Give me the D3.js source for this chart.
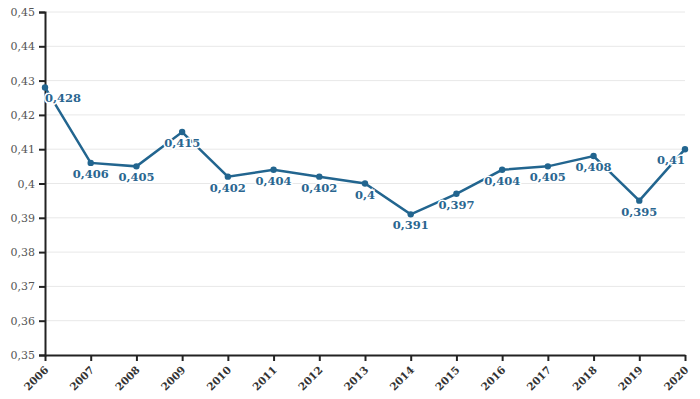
<!DOCTYPE html>
<html lang="en">
<head>
<meta charset="UTF-8">
<title>Line chart</title>
<script src="https://cdn.jsdelivr.net/npm/d3@7"></script>
<style>
    body { margin: 0; background: #fff; }
    .axis text { font-family: "DejaVu Serif", serif; font-size: 11px; fill: #555; }
    .axis.x text { fill: #333; font-weight: bold; font-size: 10.5px; }
    .axis path, .axis line { stroke: #222; stroke-width: 2px; }
    .grid line { stroke: #e8e8e8; stroke-width: 1px; }
    .lbl { font-family: "DejaVu Serif", serif; font-size: 11.5px; font-weight: bold; fill: #2a6690;
           stroke: #fff; stroke-width: 3px; paint-order: stroke; }
</style>
</head>
<body>
<script>
    // data
    const years = ["2006","2007","2008","2009","2010","2011","2012","2013","2014","2015","2016","2017","2018","2019","2020"];
    const values = [0.428,0.406,0.405,0.415,0.402,0.404,0.402,0.4,0.391,0.397,0.404,0.405,0.408,0.395,0.41];
    const yTicks = [0.35,0.36,0.37,0.38,0.39,0.40,0.41,0.42,0.43,0.44,0.45];

    const width = 700, height = 399;
    const margin = {top: 12, right: 15, bottom: 44, left: 45};
    const color = "#22658f";

    const fmt = v => d3.format("")(+v.toFixed(3)).replace(".", ",");

    const svg = d3.select("body").append("svg")
        .attr("width", width)
        .attr("height", height);

    const x = d3.scalePoint()
        .domain(years)
        .range([margin.left, width - margin.right]);

    const y = d3.scaleLinear()
        .domain([0.35, 0.45])
        .range([height - margin.bottom, margin.top]);

    // grid
    svg.append("g").attr("class", "grid")
        .selectAll("line")
        .data(yTicks.slice(1))
        .join("line")
        .attr("x1", margin.left)
        .attr("x2", width - margin.right)
        .attr("y1", d => y(d))
        .attr("y2", d => y(d));

    // axes
    svg.append("g").attr("class", "axis y")
        .attr("transform", `translate(${margin.left},0)`)
        .call(d3.axisLeft(y).tickValues(yTicks).tickSize(6).tickFormat(fmt))
        .selectAll("text").attr("dx", "-1");

    const xAxis = svg.append("g").attr("class", "axis x")
        .attr("transform", `translate(0,${height - margin.bottom})`)
        .call(d3.axisBottom(x).tickSize(6).tickSizeOuter(0));
    xAxis.selectAll("text")
        .attr("text-anchor", "end")
        .attr("x", 0)
        .attr("y", 0)
        .attr("dy", "0.35em")
        .attr("transform", "translate(1,13) rotate(-45)");

    // line
    const line = d3.line()
        .x((d, i) => x(years[i]))
        .y(d => y(d));

    svg.append("path")
        .datum(values)
        .attr("fill", "none")
        .attr("stroke", color)
        .attr("stroke-width", 2.5)
        .attr("d", line);

    svg.selectAll("circle.pt")
        .data(values)
        .join("circle")
        .attr("class", "pt")
        .attr("cx", (d, i) => x(years[i]))
        .attr("cy", d => y(d))
        .attr("r", 3.2)
        .attr("fill", color);

    // labels, kept inside the plot
    const labels = svg.selectAll("text.lbl")
        .data(values)
        .join("text")
        .attr("class", "lbl")
        .attr("y", d => y(d) + 15)
        .attr("text-anchor", "middle")
        .text(d => fmt(d));

    labels.each(function(d, i) {
        const w = this.getComputedTextLength();
        let cx = x(years[i]);
        cx = Math.max(margin.left + w / 2, Math.min(width - margin.right - w / 2, cx));
        d3.select(this).attr("x", cx);
    });
</script>
</body>
</html>
